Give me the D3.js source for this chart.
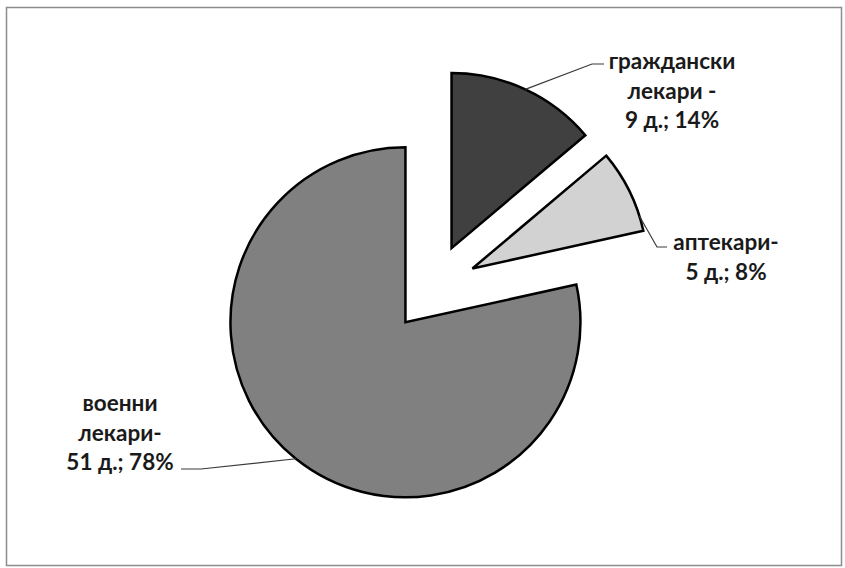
<!DOCTYPE html>
<html>
<head>
<meta charset="utf-8">
<script src="https://cdn.jsdelivr.net/npm/d3@7"></script>
<style>
  html, body { margin: 0; padding: 0; background: #ffffff; }
  svg { display: block; }
  text { font-family: Lato, "Open Sans", "Noto Sans", sans-serif; font-weight: bold; fill: #1a1a1a; }
</style>
</head>
<body>
<script>
// ---- data ----
const categories = ["граждански лекари", "аптекари", "военни лекари"];
const counts = [9, 5, 51];
const percents = [14, 8, 78];
const labelLines = [
  ["граждански", "лекари -", "9 д.; 14%"],
  ["аптекари-", "5 д.; 8%"],
  ["военни", "лекари-", "51 д.; 78%"]
];
const colors = ["#404040", "#d2d2d2", "#808080"];

// ---- layout ----
const W = 845, H = 568;
const cx = 433, cy = 288, R = 175, explode = 44;
const fontSize = 22.5, lineH = 29.5;
const labelLayout = [
  { x: 672, y: 69,  leaderFrac: 0.5, leader: [[592, 64], [604, 64]] },
  { x: 726, y: 250, leaderFrac: 0.82, leader: [[657, 247], [667, 247]] },
  { x: 120, y: 411, leaderFrac: 0.5, leader: [[201, 469], [181, 469]] }
];

const svg = d3.select("body").append("svg").attr("width", W).attr("height", H);

svg.append("rect")
  .attr("x", 6.5).attr("y", 7.5).attr("width", 835).attr("height", 558)
  .attr("fill", "#ffffff").attr("stroke", "#8c8c8c").attr("stroke-width", 1.5);

const pie = d3.pie().sort(null).value(d => d)(counts);
const arc = d3.arc().innerRadius(0).outerRadius(R);

const g = svg.append("g").attr("transform", `translate(${cx},${cy})`);

function offset(d) {
  const a = (d.startAngle + d.endAngle) / 2;
  return [explode * Math.sin(a), -explode * Math.cos(a)];
}

g.selectAll("path.slice")
  .data(pie)
  .join("path")
  .attr("class", "slice")
  .attr("transform", d => { const o = offset(d); return `translate(${o[0]},${o[1]})`; })
  .attr("d", arc)
  .attr("fill", (d, i) => colors[i])
  .attr("stroke", "#000")
  .attr("stroke-width", 2.5)
  .attr("stroke-linejoin", "miter");

// leader lines
pie.forEach((d, i) => {
  const L = labelLayout[i];
  const o = offset(d);
  const a = d.startAngle + (d.endAngle - d.startAngle) * L.leaderFrac;
  const p0 = [cx + o[0] + R * Math.sin(a), cy + o[1] - R * Math.cos(a)];
  const pts = [p0, ...L.leader];
  svg.append("path")
    .attr("d", d3.line()(pts))
    .attr("fill", "none")
    .attr("stroke", "#3a3a3a")
    .attr("stroke-width", 1.2);
});

// labels
labelLines.forEach((lines, i) => {
  const L = labelLayout[i];
  const t = svg.append("text")
    .attr("text-anchor", "middle")
    .attr("font-size", fontSize);
  lines.forEach((s, j) => {
    t.append("tspan").attr("x", L.x).attr("y", L.y + j * lineH).text(s);
  });
});
</script>
</body>
</html>
